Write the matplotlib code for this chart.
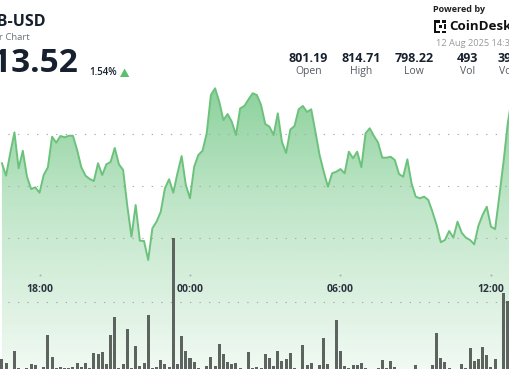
import numpy as np
import pandas as pd
import matplotlib
matplotlib.use("Agg")
import matplotlib.pyplot as plt
import matplotlib.dates as mdates
import matplotlib.transforms as mtransforms
from matplotlib.colors import to_rgb
from matplotlib.patches import Polygon, Rectangle

plt.rcParams["font.family"] = ["Open Sans", "DejaVu Sans"]

W, H = 510, 369  # output size in px

# --- data: 10-minute closes and volume ---
start = pd.Timestamp("2025-08-11 16:30")
close = [
    807.20, 806.00, 808.19, 810.19, 806.71, 808.41, 805.90, 804.71, 804.87, 804.35,
    806.06, 806.81, 809.77, 809.19, 809.84, 809.71, 809.86, 809.86, 808.48, 806.81,
    806.00, 805.68, 805.48, 807.20, 806.06, 807.10, 807.32, 808.68, 807.10, 806.55,
    803.07, 800.10, 803.16, 799.71, 799.68, 797.84, 800.91, 801.55, 802.51, 804.78,
    805.65, 804.35, 806.23, 807.90, 805.10,
    803.81, 806.87, 808.00, 808.41, 810.10, 813.80, 814.45, 813.15, 811.38, 811.96,
    811.22, 809.93, 812.51, 812.74, 813.38, 813.97, 813.80,
    812.83, 811.00, 810.74, 809.93, 812.03, 809.26, 808.19, 810.46, 810.80, 812.42,
    812.74, 812.16, 812.42, 810.25, 808.00, 806.38, 804.93, 806.23, 806.38, 806.64,
    806.23, 808.32, 807.68, 808.32, 806.81, 810.10, 810.58, 809.84, 809.19, 807.74,
    807.74, 807.83, 807.51, 806.16, 805.90, 807.58, 805.26, 803.97, 803.81, 803.97,
    803.65, 802.51, 801.23, 799.56, 799.78, 800.65, 800.00, 801.55, 800.48, 800.00,
    799.78, 799.36, 801.16, 802.20, 803.00, 801.06, 800.84, 804.03, 807.32, 811.00,
    813.52,
]
volume = [
    3.9, 2.5, 0.0, 7.3, 0.3, 0.0, 0.5, 2.0, 1.7, 0.1,
    0.8, 13.6, 4.9, 0.3, 0.7, 0.3, 0.5, 0.7, 2.4, 0.9,
    2.4, 0.5, 6.3, 6.0, 6.8, 1.9, 13.5, 20.9, 0.3, 2.1,
    16.1, 0.3, 9.2, 1.2, 2.5, 21.6, 0.3, 0.9, 3.5, 1.9,
    0.7, 52.4, 2.0, 13.2, 7.1, 4.4, 2.9, 0.3, 0.0, 1.2,
    4.7, 1.2, 10.0, 5.9, 2.9, 2.0, 2.5, 0.3, 0.0, 6.8,
    0.3, 0.9, 0.5, 6.0, 4.5, 1.3, 7.2, 3.2, 3.9, 6.3,
    0.5, 0.0, 9.5, 1.5, 2.4, 0.0, 1.7, 12.4, 2.0, 0.2,
    19.5, 7.1, 1.2, 0.3, 1.5, 1.5, 2.3, 0.3, 0.0, 0.0,
    0.3, 3.6, 0.5, 3.2, 0.9, 0.2, 0.2, 0.2, 0.0, 1.7,
    0.0, 0.0, 0.2, 1.7, 14.5, 4.3, 2.7, 0.3, 0.0, 0.0,
    1.9, 0.5, 8.3, 3.2, 4.0, 8.8, 5.5, 0.7, 4.0, 0.0,
    30.5, 27.2, 0.0,
]
times = pd.date_range(start, periods=len(close), freq="10min")

tick_times = pd.to_datetime(["2025-08-11 18:00", "2025-08-12 00:00",
                             "2025-08-12 06:00", "2025-08-12 12:00"])
grid_levels = [810, 805, 800]

pair = "BNB-USD"
subtitle = "24 Hour Chart"
last_price = "813.52"
change_pct = "1.54%"
stat_values = ["801.19", "814.71", "798.22", "493", "397.9K"]
stat_labels = ["Open", "High", "Low", "Vol", "Vol USD"]
stamp = "12 Aug 2025 14:39"

# --- layout helpers (px from top-left -> figure fraction) ---
def fx(x):
    return x / W

def fy(y):
    return 1 - y / H

fig = plt.figure(figsize=(W / 100, H / 100), dpi=100)
fig.patch.set_facecolor("white")
ax = fig.add_axes([0, 0, 1, 1])
ax.set_axis_off()

# x mapping: 00:00 sits at px 190, ~25.08 px per hour
px_h = 25.08
t0 = pd.Timestamp("2025-08-12 00:00")
x0 = mdates.date2num(t0 - pd.Timedelta(hours=190 / px_h))
x1 = mdates.date2num(t0 + pd.Timedelta(hours=(W - 190) / px_h))
# y mapping: 810 at px 134.3, 10.34 px per dollar
ylo = 810 - (H - 134.3) / 10.34
yhi = 810 + 134.3 / 10.34

tx = mdates.date2num(times)

# gradient area under the line
rows = np.arange(H)
alpha = np.interp(rows, [88, 200, H], [0.64, 0.36, 0.08])
grad = np.zeros((H, 2, 4))
grad[..., :3] = to_rgb("#4cb865")
grad[..., 3] = alpha[:, None]
im = ax.imshow(grad, extent=[x0, x1, ylo, yhi], aspect="auto", origin="upper",
               zorder=1, interpolation="bilinear")
poly = ax.fill_between(tx, close, ylo, color="none", lw=0)
im.set_clip_path(poly.get_paths()[0], ax.transData)

# dotted grid
dots = (1.5, (1.2, 7.4))
for lv in grid_levels:
    ax.axhline(lv, color="#aaaaaa", lw=0.8, linestyle=dots, zorder=2)
ax.plot([0, 1], [fy(302.3), fy(302.3)], transform=ax.transAxes,
        color="#aaaaaa", lw=0.8, linestyle=dots, zorder=2)

ax.plot(tx, close, color="#6cc27c", lw=1.4, zorder=4, solid_joinstyle="round")

ax.set_xlim(x0, x1)
ax.set_ylim(ylo, yhi)

# time labels
blend = mtransforms.blended_transform_factory(ax.transData, ax.transAxes)
for t in tick_times:
    tn = mdates.date2num(t)
    ax.text(tn, fy(289), t.strftime("%H:%M"), transform=blend, ha="center",
            va="center", fontsize=7.5, fontweight="bold", color="#2b3340", zorder=5)
    ax.plot([tn], [fy(275)], transform=blend, marker="s", ms=1.2,
            color="#a8a8a8", mec="none", zorder=5)

# volume bars
ax2 = ax.twinx()
ax2.set_axis_off()
ax2.bar(tx, volume, width=7.2 / 1440, color="#5d635e", zorder=3)
ax2.set_xlim(x0, x1)
ax2.set_ylim(0, H * 0.4)

# --- header ---
navy = "#17202e"
fig.text(fx(46), fy(22.5), pair, ha="right", va="center", fontsize=11.5,
         fontweight="bold", color=navy)
fig.text(fx(30), fy(37.5), subtitle, ha="right", va="center", fontsize=6.8,
         color="#6b7280")
fig.text(fx(79), fy(63), last_price, ha="right", va="center", fontsize=24,
         fontweight="bold", color=navy)
fig.text(fx(89), fy(72.5), change_pct, ha="left", va="center", fontsize=7,
         fontweight="semibold", color=navy)
fig.add_artist(Polygon([(fx(120), fy(77)), (fx(129.3), fy(77)), (fx(124.6), fy(68.5))],
                       closed=True, transform=fig.transFigure, color="#5cbf6e", lw=0))

stat_x = [308.3, 361, 414.3, 467.3, 518]
for sx, v, lab in zip(stat_x, stat_values, stat_labels):
    fig.text(fx(sx), fy(58.3), v, ha="center", va="center", fontsize=9,
             fontweight="bold", color=navy)
    fig.text(fx(sx), fy(71.3), lab, ha="center", va="center", fontsize=7.5,
             color="#555b63")

fig.text(fx(433.3), fy(10), "Powered by", ha="left", va="center", fontsize=6.5,
         fontweight="bold", color="#222222")
fig.text(fx(449), fy(27), "CoinDesk", ha="left", va="center", fontsize=9.6,
         fontweight="bold", color="#111111")
fig.text(fx(435.7), fy(44), stamp, ha="left", va="center", fontsize=6.7,
         color="#9a9a9a")

# logo mark
for (lx, ly, lw_, lh) in [(434, 20, 2.5, 13), (434, 20, 6, 2.5), (442, 20, 4.5, 2.5),
                          (434, 30.5, 6, 2.5), (442, 30.5, 4.5, 2.5),
                          (444, 24, 2.5, 5), (438.5, 25, 3.5, 3)]:
    fig.add_artist(Rectangle((fx(lx), fy(ly + lh)), lw_ / W, lh / H,
                             transform=fig.transFigure, color="#111111", lw=0))

fig.savefig("out.png", dpi=100, facecolor="white")
